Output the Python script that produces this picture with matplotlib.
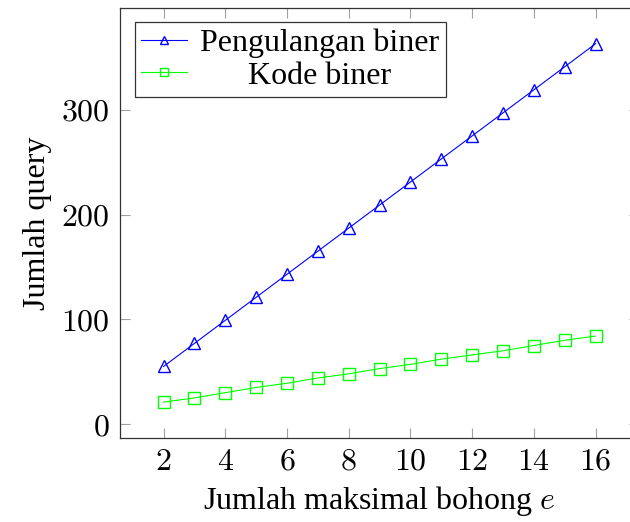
import matplotlib
matplotlib.use("Agg")
import matplotlib.pyplot as plt
from matplotlib.ticker import FuncFormatter

# data
e_vals = [2, 3, 4, 5, 6, 7, 8, 9, 10, 11, 12, 13, 14, 15, 16]
pengulangan = [55, 77, 99, 121, 143, 165, 187, 209, 231, 253, 275, 297, 319, 341, 363]
kode = [21, 25, 30, 35, 39, 44, 48, 53, 57, 62, 66, 70, 75, 80, 84]
x_ticks = [2, 4, 6, 8, 10, 12, 14, 16]
y_ticks = [0, 100, 200, 300]
labels = ["Pengulangan biner", "Kode biner"]

plt.rcParams["font.family"] = ["Liberation Serif", "DejaVu Serif"]
plt.rcParams["mathtext.fontset"] = "cm"

fs = 23

fig = plt.figure(figsize=(6.3, 5.22), dpi=100)
ax = fig.add_axes([0.191, 0.161, 1.014 - 0.191, 0.985 - 0.161])

ax.plot(e_vals, pengulangan, color=(0, 0, 1), lw=0.8, marker="^", ms=8.5,
        mfc="none", mec=(0, 0, 1), mew=1.0, label=labels[0])
ax.plot(e_vals, kode, color=(0, 1, 0), lw=0.8, marker="s", ms=8,
        mfc="none", mec=(0, 1, 0), mew=1.0, label=labels[1])

# pgfplots-like limits (10% enlargement)
ax.set_xlim(0.6, 17.4)
ax.set_ylim(21 - 0.1 * (363 - 21), 363 + 0.1 * (363 - 21))
ax.set_xticks(x_ticks)
ax.set_yticks(y_ticks)
fmt = FuncFormatter(lambda v, p: "$%d$" % v)
ax.xaxis.set_major_formatter(fmt)
ax.yaxis.set_major_formatter(fmt)

ax.tick_params(direction="in", length=7, width=0.8, color="#a0a0a0",
               top=True, right=True, labelsize=fs)
ax.tick_params(axis="x", pad=7)
ax.tick_params(axis="y", pad=8)
for s in ax.spines.values():
    s.set_color("#333333")
    s.set_linewidth(0.9)

ax.set_xlabel("Jumlah maksimal bohong $e$", fontsize=fs, labelpad=5)
ax.set_ylabel("Jumlah query", fontsize=fs, labelpad=6)

leg = ax.legend(loc="upper left", fontsize=fs, frameon=True, fancybox=False,
                edgecolor="#333333", framealpha=1, handlelength=1.45,
                handletextpad=0.4, borderpad=0.2, labelspacing=0.1,
                borderaxespad=0.45, markerscale=0.7)
leg.get_frame().set_linewidth(0.9)

# center the legend texts like pgfplots does
fig.canvas.draw()
r = fig.canvas.get_renderer()
texts = leg.get_texts()
widths = [t.get_window_extent(r).width for t in texts]
wmax = max(widths)
for t, w in zip(texts, widths):
    t.set_position(((wmax - w) / 2, 0))

fig.savefig("out.png", dpi=100)
